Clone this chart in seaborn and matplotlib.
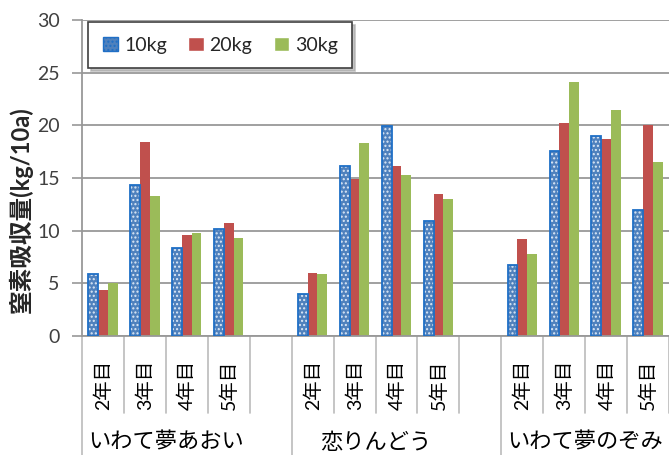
import pandas as pd
import seaborn as sns
import matplotlib.pyplot as plt
import matplotlib.patches as mpatches
import matplotlib.transforms as mtransforms

varieties = ["いわて夢あおい", "恋りんどう", "いわて夢のぞみ"]
years = ["2年目", "3年目", "4年目", "5年目"]
doses = ["10kg", "20kg", "30kg"]

# values per variety, years 2..5
n10 = [[5.9, 14.3, 8.4, 10.2], [4.0, 16.1, 19.9, 10.9], [6.7, 17.6, 19.0, 12.0]]
n20 = [[4.4, 18.4, 9.6, 10.7], [6.0, 14.9, 16.1, 13.5], [9.2, 20.2, 18.7, 20.0]]
n30 = [[5.0, 13.3, 9.8, 9.3], [5.9, 18.3, 15.3, 13.0], [7.8, 24.1, 21.5, 16.5]]

colors = ["#4F81BD", "#C0504D", "#9BBB59"]

rows = []
for g in range(len(varieties)):
    for i in range(len(years)):
        slot = g * 5 + i
        for dose, vals in zip(doses, [n10, n20, n30]):
            rows.append({"slot": slot, "dose": dose, "value": vals[g][i]})
df = pd.DataFrame(rows)

sns.set_theme(style="white")
plt.rcParams["font.family"] = ["Lato", "Noto Sans CJK JP", "DejaVu Sans"]

fig = plt.figure(figsize=(6.69, 4.55), dpi=100)
ax = fig.add_axes([82 / 669, 1 - 336 / 455, 1 - 82 / 669, 316 / 455])

sns.barplot(data=df, x="slot", y="value", hue="dose", order=list(range(14)),
            hue_order=doses, palette=colors, width=0.7, saturation=1,
            errorbar=None, legend=False, linewidth=0, ax=ax)

# dotted pattern on the 10kg bars
for p in ax.containers[0]:
    p.set_hatch("....")
    p.set_edgecolor("#DCE8F6")
    p.set_linewidth(0)
    ax.add_patch(mpatches.Rectangle(p.get_xy(), p.get_width(), p.get_height(),
                                    fill=False, edgecolor="#1F6FC6", lw=1.3, zorder=3))

ax.set_xlim(-0.5, 13.5)
ax.set_ylim(0, 30)
ax.set_yticks(range(0, 31, 5))
ax.set_xticks([])
ax.set_xlabel("")
ax.set_ylabel("")
ax.yaxis.grid(True, color="#989898", lw=1.3)
ax.set_axisbelow(True)
ax.tick_params(axis="y", left=True, length=7, width=1.2, color="#989898",
               labelsize=14, labelcolor="#404040", pad=9)
for s in ["top", "right"]:
    ax.spines[s].set_visible(False)
for s in ["left", "bottom"]:
    ax.spines[s].set_color("#989898")
    ax.spines[s].set_linewidth(1.3)

trans = mtransforms.blended_transform_factory(ax.transData, ax.transAxes)
for b in range(15):
    x = b - 0.5
    low = -0.38 if b % 5 == 0 else -0.245
    ax.plot([x, x], [0, low], transform=trans, color="#BBBBBB", lw=1.2, clip_on=False)

for g, name in enumerate(varieties):
    for i, yr in enumerate(years):
        ax.text(g * 5 + i, -0.155, yr, transform=trans, rotation=90,
                ha="center", va="center", fontsize=14, color="#000000")
    ax.text(g * 5 + 1.5, -0.338, name, transform=trans, ha="center", va="center",
            fontsize=16, color="#000000")

fig.text(21 / 669, 1 - 210 / 455, "窒素吸収量(kg/10a)", rotation=90, ha="center",
         va="center", fontsize=17, fontweight="bold")

handles = [mpatches.Patch(facecolor=colors[0], edgecolor="#1F6FC6", hatch="...."),
           mpatches.Patch(facecolor=colors[1]),
           mpatches.Patch(facecolor=colors[2])]
leg = ax.legend(handles, doses, loc="upper left", ncol=3,
                bbox_to_anchor=(88 / 669, 1 - 22 / 455), bbox_transform=fig.transFigure,
                borderaxespad=0, fontsize=14, frameon=True, fancybox=False,
                edgecolor="#404040", handlelength=0.8, handleheight=0.8,
                handletextpad=0.3, columnspacing=1.1, borderpad=0.75,
                shadow={"ox": 2, "oy": -2, "color": "#AAAAAA", "alpha": 0.7})
leg.get_frame().set_linewidth(1.2)

fig.savefig("out.png", dpi=100)
